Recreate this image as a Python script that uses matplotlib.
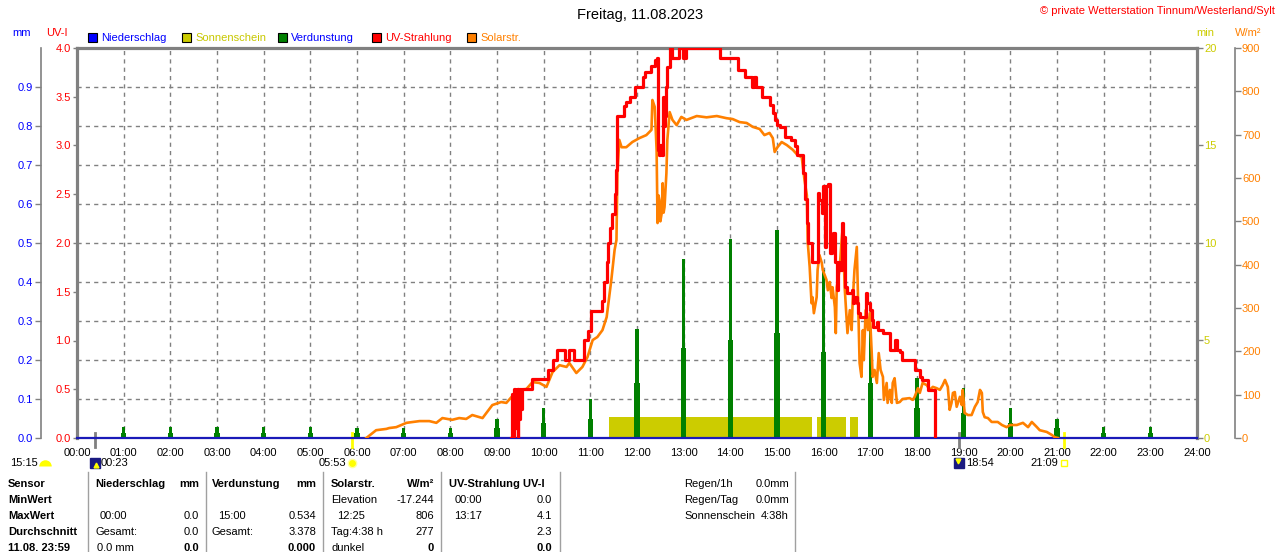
import matplotlib
matplotlib.use('Agg')
import matplotlib.pyplot as plt
from matplotlib.lines import Line2D
from matplotlib.patches import Rectangle

plt.rcParams['font.family'] = ['Liberation Sans', 'DejaVu Sans']
plt.rcParams['font.size'] = 8

# ---- Daten ----
stunden = list(range(25))
stunden_labels = ['%02d:00' % h for h in stunden]

# Verdunstung mm, stuendliche Spitzen (oben) und Sockel (unten)
verd_zeit = list(range(1, 24))
verd_max = [0.028, 0.028, 0.028, 0.028, 0.028, 0.026, 0.026, 0.026, 0.05, 0.077, 0.10, 0.28,
            0.46, 0.51, 0.534, 0.43, 0.28, 0.154, 0.128, 0.077, 0.05, 0.028, 0.028]
verd_sockel = [0.013, 0.013, 0.013, 0.013, 0.013, 0.013, 0.013, 0.013, 0.025, 0.038, 0.05, 0.14,
               0.23, 0.25, 0.27, 0.22, 0.14, 0.077, 0.064, 0.038, 0.025, 0.013, 0.013]

# Sonnenschein (min), Bloecke
sonne_start = [11.41, 15.85, 16.56]
sonne_ende = [15.74, 16.47, 16.73]
sonne_min = 1.1

# UV-Strahlung (UV-I), Stufen
uv_zeit = [9.31, 9.33, 9.35, 9.37, 9.39, 9.42, 9.44, 9.46, 9.48, 9.50, 9.52, 9.54, 9.74, 10.10,
           10.19, 10.29, 10.45, 10.55, 10.66, 10.87, 10.94, 11.02, 11.26, 11.30, 11.35, 11.37,
           11.43, 11.47, 11.52, 11.56, 11.58, 11.73, 11.77, 11.84, 11.95, 12.12, 12.18, 12.29,
           12.31, 12.38, 12.42, 12.44, 12.48, 12.50, 12.53, 12.55, 12.57, 12.59, 12.63, 12.65,
           12.70, 12.74, 12.91, 12.98, 13.06, 13.77, 14.16, 14.31, 14.46, 14.50, 14.54, 14.67,
           14.84, 14.91, 14.95, 14.99, 15.06, 15.18, 15.31, 15.38, 15.42, 15.55, 15.59, 15.64,
           15.66, 15.74, 15.87, 15.91, 15.96, 15.98, 16.02, 16.06, 16.09, 16.13, 16.17, 16.19,
           16.24, 16.28, 16.30, 16.34, 16.39, 16.41, 16.45, 16.49, 16.60, 16.62, 16.66, 16.71,
           16.73, 16.77, 16.90, 16.92, 16.99, 17.03, 17.05, 17.14, 17.16, 17.27, 17.42, 17.52,
           17.57, 17.63, 17.67, 17.95, 18.06, 18.10, 18.23, 18.38]
uv_wert = [0.0, 0.45, 0.0, 0.5, 0.1, 0.5, 0.0, 0.5, 0.2, 0.5, 0.3, 0.5, 0.6, 0.7,
           0.8, 0.9, 0.8, 0.9, 0.8, 1.0, 1.1, 1.3, 1.4, 1.6, 1.8, 2.0,
           2.15, 2.3, 2.5, 2.75, 3.3, 3.4, 3.45, 3.5, 3.6, 3.7, 3.75, 3.8,
           3.82, 3.88, 3.9, 2.95, 2.9, 3.0, 2.9, 3.5, 3.2, 3.3, 3.6, 3.8,
           4.0, 3.9, 4.0, 3.9, 4.0, 3.9, 3.77, 3.7, 3.6, 3.7, 3.6, 3.5,
           3.42, 3.33, 3.26, 3.21, 3.19, 3.09, 3.06, 2.99, 2.9, 2.72, 2.45, 2.2,
           2.0, 1.8, 2.51, 2.44, 2.31, 2.58, 1.96, 2.58, 2.6, 1.9, 2.06, 2.1,
           1.8, 1.52, 1.8, 1.72, 2.2, 2.06, 1.55, 1.49, 1.52, 1.38, 1.45, 1.38,
           1.28, 1.24, 1.49, 1.38, 1.31, 1.21, 1.14, 1.19, 1.11, 1.08, 0.9, 1.0,
           0.9, 0.88, 0.8, 0.7, 0.63, 0.59, 0.49, 0.0]

# Solarstrahlung W/m2
solar_zeit = [6.20, 6.41, 6.63, 6.69, 6.84, 7.06, 7.34, 7.55, 7.70, 7.83, 8.04, 8.19, 8.34, 8.47,
              8.69, 8.90, 9.09, 9.20, 9.33, 9.48, 9.63, 9.76, 9.91, 10.06, 10.19, 10.34, 10.49,
              10.55, 10.70, 10.83, 10.94, 11.05, 11.15, 11.26, 11.35, 11.41, 11.45, 11.52, 11.56,
              11.58, 11.62, 11.67, 11.77, 11.90, 12.05, 12.20, 12.31, 12.33, 12.38, 12.42, 12.44,
              12.46, 12.48, 12.50, 12.53, 12.55, 12.57, 12.59, 12.63, 12.65, 12.70, 12.76, 12.85,
              12.95, 13.06, 13.28, 13.49, 13.71, 13.92, 14.05, 14.20, 14.35, 14.48, 14.63, 14.73,
              14.84, 14.91, 14.95, 15.01, 15.10, 15.21, 15.34, 15.44, 15.53, 15.59, 15.64,
              15.66, 15.70, 15.74, 15.76, 15.79, 15.85, 15.87, 15.91, 15.96, 15.98, 16.06, 16.09,
              16.13, 16.17, 16.19, 16.24, 16.26, 16.28, 16.34, 16.39, 16.41, 16.45, 16.49, 16.51,
              16.56, 16.60, 16.62, 16.66, 16.71, 16.73, 16.77, 16.81, 16.84, 16.86, 16.90, 16.95,
              16.99, 17.03, 17.05, 17.09, 17.14, 17.18, 17.22, 17.27, 17.29, 17.35, 17.37, 17.42,
              17.46, 17.48, 17.52, 17.57, 17.63, 17.69, 17.84, 17.91, 17.95, 18.02, 18.06, 18.12,
              18.21, 18.27, 18.34, 18.42, 18.49, 18.55, 18.60, 18.66, 18.70, 18.74, 18.77, 18.81,
              18.85, 18.92, 18.96, 18.98, 19.02, 19.09, 19.17, 19.24, 19.30, 19.35, 19.39, 19.41,
              19.45, 19.52, 19.60, 19.73, 19.82, 19.92, 19.99, 20.14, 20.27, 20.38, 20.46, 20.57,
              20.63, 20.78, 20.89, 20.95, 21.02]
solar_wert = [0, 18, 21, 23, 25, 35, 39, 39, 35, 46, 42, 46, 44, 53,
              46, 76, 83, 81, 97, 111, 113, 129, 127, 118, 152, 168, 164,
              173, 150, 164, 187, 226, 233, 249, 279, 330, 365, 434, 457,
              611, 688, 671, 671, 683, 692, 699, 711, 780, 764, 665, 496,
              560, 549, 500, 519, 588, 520, 533, 611, 688, 752, 734, 722,
              741, 734, 743, 740, 743, 738, 736, 729, 727, 718, 713, 699,
              704, 692, 660, 671, 683, 676, 665, 653, 648, 595, 560,
              450, 395, 311, 325, 288, 325, 388, 422, 404, 388, 365, 341,
              360, 323, 348, 302, 242, 348, 388, 464, 487, 348, 279, 242,
              295, 249, 311, 388, 441, 348, 173, 141, 249, 180, 295, 249,
              288, 196, 141, 157, 127, 196, 157, 141, 88, 127, 81, 111,
              81, 127, 138, 81, 83, 90, 92, 88, 95, 115, 104, 127,
              122, 111, 118, 115, 111, 122, 134, 118, 65, 81, 104, 106,
              72, 95, 76, 111, 58, 53, 53, 72, 83, 111, 104, 60,
              48, 46, 37, 37, 30, 25, 30, 30, 35, 25, 37, 25,
              18, 14, 7, 2, 0]

# Ereignisse unter der Zeitachse
mond_auf, sonne_auf, mond_unter, sonne_unter = 23 / 60, 5 + 53 / 60, 18 + 54 / 60, 21 + 9 / 60

W, H = 1280, 552
GRAU = '#808080'
GELB = '#cccc00'
GRUEN = '#008000'
ROT = '#ff0000'
ORANGE = '#ff8000'
BLAU = '#0000ff'


def px(x, y):
    return x / W, 1 - y / H


def ftext(x, y, s, **kw):
    kw.setdefault('va', 'center')
    fig.text(x / W, 1 - y / H, s, **kw)


fig = plt.figure(figsize=(12.8, 5.52), dpi=100)
L, R, T, B = 77, 1197, 48, 438
ax = fig.add_axes([L / W, 1 - B / H, (R - L) / W, (B - T) / H])
ax.set_xlim(0, 24)
ax.set_ylim(0, 4)
ax.set_xticks(stunden)
ax.set_xticklabels(stunden_labels)
ax.tick_params(axis='x', length=0, pad=7, labelsize=8)
ax.set_yticks([i * 0.5 for i in range(9)])
ax.set_yticklabels(['%.1f' % (i * 0.5) for i in range(9)])
ax.tick_params(axis='y', length=3, width=1, color=GRAU, labelcolor=ROT, pad=1.5, labelsize=8)
ax.grid(axis='x', color=GRAU, linestyle=(0, (3, 3)), linewidth=1)
ax.set_axisbelow(True)
for s in ['top', 'left', 'right']:
    ax.spines[s].set_color(GRAU)
    ax.spines[s].set_linewidth(2.3)
ax.spines['bottom'].set_visible(False)

# Sonnenschein (min)
ax_min = ax.twinx()
ax_min.set_ylim(0, 20)
ax_min.set_yticks([0, 5, 10, 15, 20])
ax_min.tick_params(axis='y', length=4, width=1, color=GRAU, labelcolor=GELB, pad=1, labelsize=8)
for s in ax_min.spines.values():
    s.set_visible(False)
ax_min.bar(sonne_start, sonne_min, width=[e - a for a, e in zip(sonne_start, sonne_ende)],
           align='edge', color=GELB, linewidth=0)

# Niederschlag/Verdunstung (mm)
ax_mm = ax.twinx()
ax_mm.set_ylim(0, 1.0)
ax_mm.yaxis.tick_left()
ax_mm.set_yticks([i / 10 for i in range(10)])
ax_mm.set_yticklabels(['%.1f' % (i / 10) for i in range(10)])
ax_mm.tick_params(axis='y', length=4, width=1, color=GRAU, labelcolor=BLAU, pad=1.5, labelsize=8)
for s in ax_mm.spines.values():
    s.set_visible(False)
ax_mm.spines['left'].set_visible(True)
ax_mm.spines['left'].set_position(('outward', 36 * 0.72))
ax_mm.spines['left'].set_color(GRAU)
ax_mm.spines['left'].set_linewidth(1.2)
ax_mm.grid(axis='y', color=GRAU, linestyle=(0, (3, 3)), linewidth=1)
ax_mm.set_axisbelow(True)
ax_mm.bar(verd_zeit, verd_sockel, width=0.11, color=GRUEN, linewidth=0)
ax_mm.bar(verd_zeit, verd_max, width=0.065, color=GRUEN, linewidth=0)
ax_mm.axhline(0, color='#1a1ab8', linewidth=1.6, zorder=5, clip_on=False)

# Solarstrahlung (W/m2)
ax_w = ax.twinx()
ax_w.set_ylim(0, 900)
ax_w.set_yticks(range(0, 1000, 100))
ax_w.tick_params(axis='y', length=4, width=1, color=GRAU, labelcolor=ORANGE, pad=1, labelsize=8)
for s in ax_w.spines.values():
    s.set_visible(False)
ax_w.spines['right'].set_visible(True)
ax_w.spines['right'].set_position(('outward', 38 * 0.72))
ax_w.spines['right'].set_color(GRAU)
ax_w.spines['right'].set_linewidth(1.2)
ax_w.plot(solar_zeit, solar_wert, color=ORANGE, linewidth=1.9)

# UV-Strahlung
ax_uv = ax.twinx()
ax_uv.set_ylim(0, 4)
ax_uv.set_yticks([])
for s in ax_uv.spines.values():
    s.set_visible(False)
ax_uv.plot(uv_zeit, uv_wert, color=ROT, linewidth=2.3, drawstyle='steps-post')

# Ereignis-Striche an der Achse
for t, c in [(mond_auf, GRAU), (sonne_auf, '#ffff00'), (mond_unter, GRAU), (sonne_unter, '#ffff00')]:
    ax.plot([t, t], [-0.09, 0.05], color=c, linewidth=2, clip_on=False, zorder=10)

y_ev = -0.26
ax.plot(mond_auf + 0.0, y_ev, marker='s', ms=7.5, mfc='#1a1a80', mec='#1a1a80', clip_on=False)
ax.plot(mond_auf + 0.02, y_ev - 0.02, marker='^', ms=3.5, mfc='#ffff00', mec='#ffff00', clip_on=False)
ax.annotate('00:23', (mond_auf, y_ev), xytext=(4, 0), textcoords='offset points',
            ha='left', va='center', annotation_clip=False)
ax.plot(sonne_auf, y_ev, marker='o', ms=6, mfc='#ffff00', mec='#ffffa0', clip_on=False)
ax.annotate('05:53', (sonne_auf, y_ev), xytext=(-4, 0), textcoords='offset points',
            ha='right', va='center', annotation_clip=False)
ax.plot(mond_unter, y_ev, marker='s', ms=7.5, mfc='#1a1a80', mec='#1a1a80', clip_on=False)
ax.plot(mond_unter - 0.03, y_ev + 0.02, marker='v', ms=3.5, mfc='#ffff00', mec='#ffff00', clip_on=False)
ax.annotate('18:54', (mond_unter, y_ev), xytext=(5, 0), textcoords='offset points',
            ha='left', va='center', annotation_clip=False)
ax.plot(sonne_unter, y_ev, marker='s', ms=4, mfc='none', mec='#ffff00', mew=1, clip_on=False)
ax.annotate('21:09', (sonne_unter, y_ev), xytext=(-4, 0), textcoords='offset points',
            ha='right', va='center', annotation_clip=False)
ftext(10, 463, '15:15')
fig.add_artist(Line2D([px(45, 466)[0]], [px(45, 466)[1]], marker='o', ms=9, fillstyle='top',
                      mfc='#ffff00', mfcalt='none', mec='none', transform=fig.transFigure))

# Titel und Legende
ftext(640, 15, 'Freitag, 11.08.2023', ha='center', fontsize=10.5)
ftext(1275, 11, '© private Wetterstation Tinnum/Westerland/Sylt', ha='right', color=ROT)
ftext(22, 33, 'mm', ha='center', color=BLAU)
ftext(57, 33, 'UV-I', ha='center', color=ROT)
ftext(1205, 33, 'min', ha='center', color=GELB)
ftext(1248, 33, 'W/m²', ha='center', color=ORANGE)

legende = [(88, BLAU, 'Niederschlag', BLAU), (182, GELB, 'Sonnenschein', '#c8c800'),
           (278, GRUEN, 'Verdunstung', BLAU), (372, ROT, 'UV-Strahlung', ROT),
           (467, ORANGE, 'Solarstr.', ORANGE)]
for x, fc, txt, tc in legende:
    fig.add_artist(Rectangle(px(x, 42), 9 / W, 9 / H, transform=fig.transFigure,
                             facecolor=fc, edgecolor='black', linewidth=0.8))
    ftext(x + 13, 38, txt, color=tc)

# Tabelle unten
zeilen = [484, 500, 516, 532, 548]
for x in [88, 206, 323, 441, 560, 795]:
    fig.add_artist(Line2D([x / W, x / W], [1 - 472 / H, 0], color='#a0a0a0', linewidth=1,
                          transform=fig.transFigure))

for y, s in zip(zeilen, ['Sensor', 'MinWert', 'MaxWert', 'Durchschnitt', '11.08. 23:59']):
    ftext(8, y, s, fontweight='bold')

ftext(95, zeilen[0], 'Niederschlag', fontweight='bold')
ftext(199, zeilen[0], 'mm', fontweight='bold', ha='right')
ftext(100, zeilen[2], '00:00')
ftext(199, zeilen[2], '0.0', ha='right')
ftext(95, zeilen[3], 'Gesamt:')
ftext(199, zeilen[3], '0.0', ha='right')
ftext(97, zeilen[4], '0.0 mm')
ftext(199, zeilen[4], '0.0', ha='right', fontweight='bold')

ftext(212, zeilen[0], 'Verdunstung', fontweight='bold')
ftext(316, zeilen[0], 'mm', fontweight='bold', ha='right')
ftext(218, zeilen[2], '15:00')
ftext(316, zeilen[2], '0.534', ha='right')
ftext(212, zeilen[3], 'Gesamt:')
ftext(316, zeilen[3], '3.378', ha='right')
ftext(316, zeilen[4], '0.000', ha='right', fontweight='bold')

ftext(331, zeilen[0], 'Solarstr.', fontweight='bold')
ftext(434, zeilen[0], 'W/m²', fontweight='bold', ha='right')
ftext(331, zeilen[1], 'Elevation')
ftext(434, zeilen[1], '-17.244', ha='right')
ftext(337, zeilen[2], '12:25')
ftext(434, zeilen[2], '806', ha='right')
ftext(331, zeilen[3], 'Tag:4:38 h')
ftext(434, zeilen[3], '277', ha='right')
ftext(331, zeilen[4], 'dunkel')
ftext(434, zeilen[4], '0', ha='right', fontweight='bold')

ftext(449, zeilen[0], 'UV-Strahlung UV-I', fontweight='bold')
ftext(455, zeilen[1], '00:00')
ftext(552, zeilen[1], '0.0', ha='right')
ftext(454, zeilen[2], '13:17')
ftext(552, zeilen[2], '4.1', ha='right')
ftext(552, zeilen[3], '2.3', ha='right')
ftext(552, zeilen[4], '0.0', ha='right', fontweight='bold')

for y, a, b in zip(zeilen, ['Regen/1h', 'Regen/Tag', 'Sonnenschein'], ['0.0mm', '0.0mm', '4:38h']):
    ftext(684, y, a)
    ftext(789, y, b, ha='right')

fig.savefig('out.png', dpi=100)
